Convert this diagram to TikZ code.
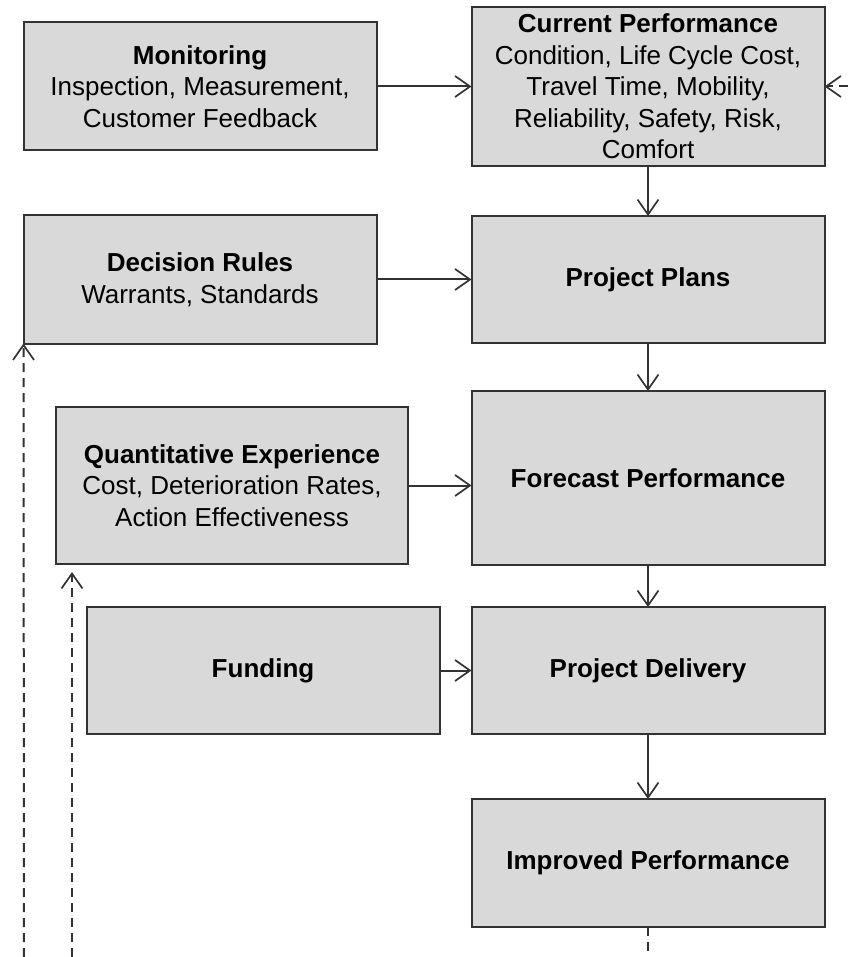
\documentclass[tikz,border=0pt]{standalone}
\usepackage{fontspec}
\setmainfont{Liberation Sans}
\usetikzlibrary{positioning, arrows.meta}
\definecolor{boxfill}{HTML}{D9D9D9}
\definecolor{boxline}{HTML}{333333}

\begin{document}
\begin{tikzpicture}[x=1pt, y=-1pt,
		blk/.style={rectangle, draw=boxline, line width=2pt, fill=boxfill, align=center, minimum width=353pt, inner sep=0pt, outer sep=0pt, font=\fontsize{26}{31.5}\selectfont},
		flow/.style={draw=boxline, line width=2pt, -{Straight Barb[length=15pt, width=21pt, line width=1.7pt]}},
		back/.style={flow, dash pattern=on 9pt off 6pt}]
			\useasboundingbox (0,0) rectangle (848,957);

			% main column
			\node (cp) [blk, minimum height=159pt] at (648,86.5) {\textbf{Current Performance}\\Condition, Life Cycle Cost,\\Travel Time, Mobility,\\Reliability, Safety, Risk,\\Comfort};
			\node (pp) [blk, minimum height=127pt, below=50pt of cp] {\textbf{Project Plans}};
			\node (fp) [blk, minimum height=174pt, below=48pt of pp] {\textbf{Forecast Performance}};
			\node (pd) [blk, minimum height=127pt, below=42pt of fp] {\textbf{Project Delivery}};
			\node (ip) [blk, minimum height=128pt, below=65pt of pd] {\textbf{Improved Performance}};

			% inputs
			\node (mon) [blk, minimum height=128pt, left=95pt of cp] {\textbf{Monitoring}\\Inspection, Measurement,\\Customer Feedback};
			\node (dec) [blk, minimum height=128pt, left=95pt of pp] {\textbf{Decision Rules}\\Warrants, Standards};
			\node (qe) [blk, minimum width=352pt, minimum height=157pt] at (232,485.5) {\textbf{Quantitative Experience}\\Cost, Deterioration Rates,\\Action Effectiveness};
			\node (fund) [blk, minimum height=127pt, left=32pt of pd] {\textbf{Funding}};

			\draw[flow] (mon) -- (cp);
			\draw[flow] (dec) -- (dec -| pp.west);
			\draw[flow] (qe) -- (qe -| fp.west);
			\draw[flow] (fund) -- (pd);

			\draw[flow] (cp) -- (pp);
			\draw[flow] (pp) -- (fp);
			\draw[flow] (fp) -- (pd);
			\draw[flow] (pd) -- (ip);

			% feedback
			\coordinate (low1) at (24,957);
			\coordinate (low2) at (72,957);
			\coordinate (qetip) at (72,572);
			\coordinate (rgt) at (848,86.5);
			\draw[back] (low1) -- (dec.south west);
			\draw[back] (low2) -- (qetip);
			\draw[back] (rgt) -- (cp);
			\draw[boxline, line width=2pt, dash pattern=on 9pt off 6pt] (ip) -- (ip |- low1);
		\end{tikzpicture}
\end{document}
